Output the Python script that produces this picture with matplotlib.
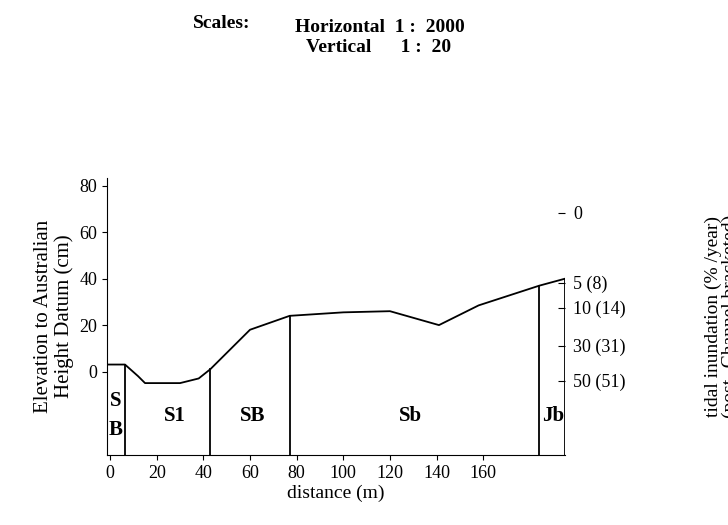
import matplotlib
matplotlib.use("Agg")
import matplotlib.pyplot as plt
import numpy as np

# data (distance m, elevation cm)
prof_x = [-1.3, 6.4, 12, 15, 30, 38, 43, 60, 77, 100, 120, 141, 158, 184, 195]
prof_y = [3, 3, -2, -5, -5, -3, 1, 18, 24, 25.5, 26, 20, 28.5, 37, 40]
zone_bounds = [6.4, 43, 77, 184]
zone_labels = ["S\nB", "S1", "SB", "Sb", "Jb"]
zone_centers = [2.6, 28, 61, 129, 190]
xticks = [0, 20, 40, 60, 80, 100, 120, 140, 160]
yticks = [0, 20, 40, 60, 80]
tide_pos = [68.4, 38.3, 27.5, 11.2, -3.9]
tide_labels = ["0", "5 (8)", "10 (14)", "30 (31)", "50 (51)"]

plt.rcParams["font.family"] = "Liberation Serif"
fig = plt.figure(figsize=(7.28, 5.25), dpi=100)
ax = fig.add_axes([0.147, 0.1333, 0.629, 0.5276])
ax.set_xlim(-1.3, 195)
ax.set_ylim(-36, 83.4)
ax.plot(prof_x, prof_y, color="black", lw=1.3)
bottom = -36
for b in zone_bounds:
    ax.plot([b, b], [bottom, np.interp(b, prof_x, prof_y)], color="black", lw=1.3)
ax.plot([195, 195], [bottom, 40], color="black", lw=1.3)
for c, lab in zip(zone_centers, zone_labels):
    ax.text(c, -19, lab, ha="center", va="center", fontsize=15, fontweight="bold",
            linespacing=1.6)
for s in ["top", "right"]:
    ax.spines[s].set_visible(False)
ax.set_xticks(xticks)
ax.set_yticks(yticks)
ax.tick_params(labelsize=13, direction="out")
ax.set_xlabel("distance (m)", fontsize=14, labelpad=2)
ax.set_ylabel("Elevation to Australian\nHeight Datum (cm)", fontsize=15, linespacing=1.1)

ax2 = ax.twinx()
ax2.set_ylim(ax.get_ylim())
for s in ["top", "left", "bottom", "right"]:
    ax2.spines[s].set_visible(False)
ax2.set_yticks(tide_pos)
ax2.set_yticklabels(tide_labels)
ax2.tick_params(labelsize=13, length=5, direction="in", pad=6)
ax2.set_ylabel("tidal inundation (% /year)\n(post -Channel bracketed)", fontsize=14,
               labelpad=38, linespacing=1.0)
ax2.yaxis.set_label_coords(1.305, 0.5)

fig.text(0.265, 0.955, "Scales:", fontsize=14, fontweight="bold", va="center")
fig.text(0.405, 0.948, "Horizontal  1 :  2000", fontsize=14, fontweight="bold", va="center")
fig.text(0.42, 0.91, "Vertical      1 :  20", fontsize=14, fontweight="bold", va="center")
fig.savefig("out.png", dpi=100)
